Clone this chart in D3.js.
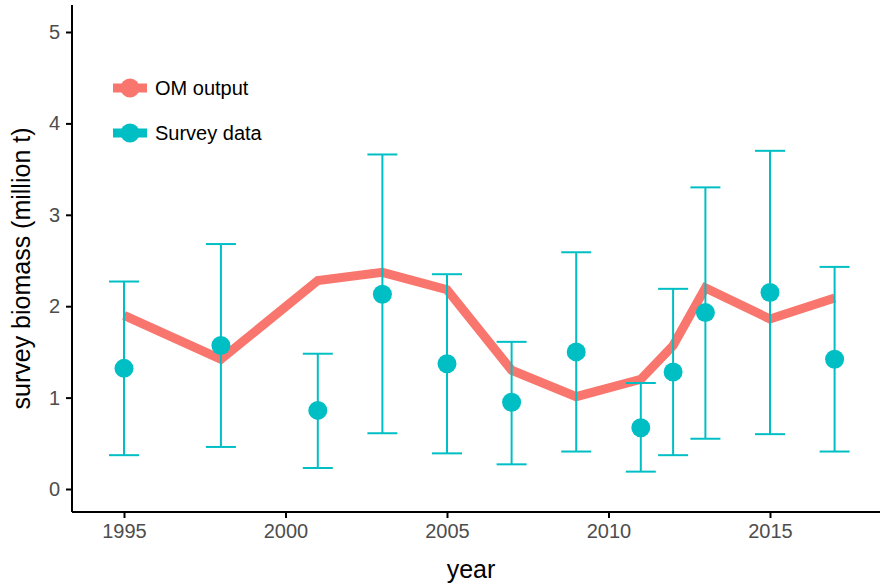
<!DOCTYPE html>
<html><head><meta charset="utf-8">
<script src="https://cdn.jsdelivr.net/npm/d3@7"></script>
<style>body{margin:0;background:#fff}</style></head>
<body><svg id="c" width="881" height="585"></svg>
<script>
const years = [1995, 1998, 2001, 2003, 2005, 2007, 2009, 2011, 2012, 2013, 2015, 2017];
const omOutput = [1.90, 1.42, 2.28, 2.37, 2.18, 1.30, 1.01, 1.20, 1.57, 2.20, 1.86, 2.09];
const survey = [1.32, 1.57, 0.86, 2.13, 1.37, 0.95, 1.50, 0.67, 1.28, 1.93, 2.15, 1.42];
const surveyLo = [0.37, 0.46, 0.23, 0.61, 0.39, 0.27, 0.41, 0.19, 0.37, 0.55, 0.60, 0.41];
const surveyHi = [2.27, 2.68, 1.48, 3.66, 2.35, 1.61, 2.59, 1.16, 2.19, 3.30, 3.70, 2.43];
const xTicks = [1995, 2000, 2005, 2010, 2015];
const yTicks = [0, 1, 2, 3, 4, 5];

const svg = d3.select("#c");
const pL = 72, pR = 880, pT = 5, pB = 512;
const x = d3.scaleLinear().domain([1995, 2015]).range([124, 770]);
const y = d3.scaleLinear().domain([0, 5]).range([489, 32]);
const red = "#F8766D", teal = "#00BFC4";
const font = "Liberation Sans, Arial, sans-serif";

svg.append("g").attr("transform", `translate(0,${pB})`)
  .attr("font-size", 20).attr("font-family", font)
  .call(d3.axisBottom(x).tickValues(xTicks).tickFormat(d3.format("d")).tickSize(6).tickPadding(6).tickSizeOuter(0))
  .attr("font-size", 20).attr("font-family", font)
  .call(g => g.select(".domain").attr("d", `M${pL},0H${pR}`))
  .selectAll("text").attr("fill", "#4d4d4d");
svg.append("g").attr("transform", `translate(${pL},0)`)
  .call(d3.axisLeft(y).tickValues(yTicks).tickFormat(d3.format("d")).tickSize(6).tickPadding(6).tickSizeOuter(0))
  .attr("font-size", 20).attr("font-family", font)
  .call(g => g.select(".domain").attr("d", `M0,${pT}V${pB}`))
  .selectAll("text").attr("fill", "#4d4d4d");
svg.selectAll(".domain,.tick line").attr("stroke", "#000").attr("stroke-width", 2);

svg.append("path").datum(years.map((d, i) => [d, omOutput[i]]))
  .attr("d", d3.line().x(d => x(d[0])).y(d => y(d[1])))
  .attr("fill", "none").attr("stroke", red).attr("stroke-width", 9);

const eb = svg.append("g").attr("stroke", teal).attr("stroke-width", 2);
years.forEach((yr, i) => {
  const cx = x(yr);
  eb.append("line").attr("x1", cx).attr("x2", cx).attr("y1", y(surveyLo[i])).attr("y2", y(surveyHi[i]));
  eb.append("line").attr("x1", cx - 15).attr("x2", cx + 15).attr("y1", y(surveyLo[i])).attr("y2", y(surveyLo[i]));
  eb.append("line").attr("x1", cx - 15).attr("x2", cx + 15).attr("y1", y(surveyHi[i])).attr("y2", y(surveyHi[i]));
});
svg.selectAll(".pt").data(years).enter().append("circle")
  .attr("cx", d => x(d)).attr("cy", (d, i) => y(survey[i])).attr("r", 9.5).attr("fill", teal);

const legend = [{label: "OM output", color: red, y: 88}, {label: "Survey data", color: teal, y: 133}];
legend.forEach(l => {
  svg.append("line").attr("x1", 113).attr("x2", 147).attr("y1", l.y).attr("y2", l.y)
    .attr("stroke", l.color).attr("stroke-width", 9);
  svg.append("circle").attr("cx", 130).attr("cy", l.y).attr("r", 9.5).attr("fill", l.color);
  svg.append("text").attr("x", 155).attr("y", l.y + 7).text(l.label)
    .attr("font-size", 20).attr("font-family", font);
});

svg.append("text").attr("x", (pL + pR) / 2 - 5).attr("y", 578).attr("text-anchor", "middle")
  .attr("font-size", 25).attr("font-family", font).text("year");
svg.append("text").attr("transform", `translate(30,${(pT + pB) / 2 + 10}) rotate(-90)`)
  .attr("text-anchor", "middle").attr("font-size", 25)
  .attr("font-family", font).text("survey biomass (million t)");
</script></body></html>
